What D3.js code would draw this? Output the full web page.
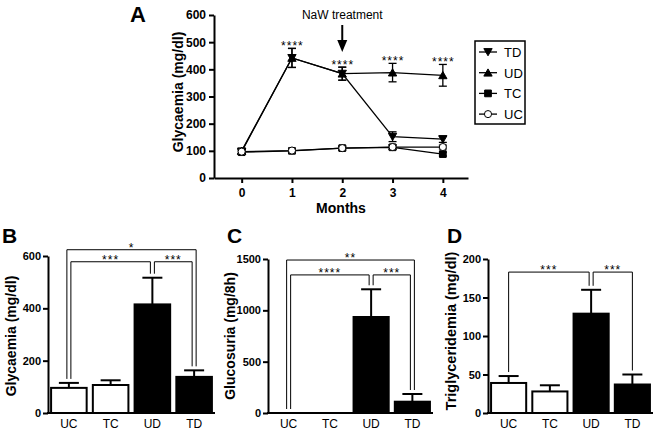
<!DOCTYPE html>
<html>
<head>
<meta charset="utf-8">
<script src="https://cdn.jsdelivr.net/npm/d3@7"></script>
<style>
  body { margin: 0; background: #fff; }
  svg { font-family: "Liberation Sans", Arial, sans-serif; }
  .axis path, .axis line { stroke: #000; stroke-width: 2; }
  .axis text { font-family: "Liberation Sans", Arial, sans-serif; font-weight: bold; font-size: 12px; fill: #000; }
  .bar-axis text { font-size: 11px; }
  .stars { font-size: 12px; letter-spacing: 1px; }
</style>
</head>
<body>
<div id="chart"></div>
<script>
// panel A - glycaemia over time
var months = [0, 1, 2, 3, 4];
var tdMean = [97, 442, 384, 152, 143];
var tdErr = [10, 35, 24, 18, 12];
var udMean = [100, 442, 384, 388, 378];
var udErr = [10, 35, 24, 34, 40];
var tcMean = [95, 100, 110, 113, 88];
var tcErr = [8, 7, 7, 8, 7];
var ucMean = [97, 101, 110, 114, 114];
var ucErr = [8, 7, 7, 8, 7];
var monthStars = ["", "****", "****", "****", "****"];
var yTicksA = [0, 100, 200, 300, 400, 500, 600];

// panels B, C, D
var groups = ["UC", "TC", "UD", "TD"];
var glycaemia = [96, 107, 415, 138];
var glycaemiaErr = [19, 18, 102, 25];
var glucosuria = [0, 0, 935, 110];
var glucosuriaErr = [0, 0, 270, 75];
var triglyc = [39, 28, 129, 37];
var triglycErr = [9, 8, 31, 13];

var glycBrackets = [["UC", "TD", 624, "*"], ["UC", "UD", 578, "***"], ["UD", "TD", 578, "***"]];
var glucBrackets = [["UC", "TD", 1490, "**"], ["UC", "UD", 1345, "****"], ["UD", "TD", 1345, "***"]];
var trigBrackets = [["UC", "UD", 183, "***"], ["UD", "TD", 183, "***"]];

var width = 660, height = 434;
var svg = d3.select("#chart").append("svg")
    .attr("width", width)
    .attr("height", height);

// ---------- panel A ----------
var xA = d3.scaleLinear().domain([-0.55, 4.5]).range([214, 468]);
var yA = d3.scaleLinear().domain([0, 600]).range([178, 15]);

svg.append("g")
    .attr("class", "axis")
    .attr("transform", "translate(214,0)")
    .call(d3.axisLeft(yA).tickValues(yTicksA).tickSize(5).tickSizeOuter(0).tickPadding(3));

svg.append("g")
    .attr("class", "axis")
    .attr("transform", "translate(0,178)")
    .call(d3.axisBottom(xA).tickValues(months).tickSize(5).tickSizeOuter(0).tickPadding(5).tickFormat(d3.format("d")));

svg.append("text").attr("x", 130).attr("y", 22)
    .attr("font-size", 22).attr("font-weight", "bold").text("A");

svg.append("text")
    .attr("transform", "translate(183,92) rotate(-90)")
    .attr("text-anchor", "middle").attr("font-size", 14).attr("font-weight", "bold")
    .text("Glycaemia (mg/dl)");

svg.append("text").attr("x", 341).attr("y", 213)
    .attr("text-anchor", "middle").attr("font-size", 14).attr("font-weight", "bold")
    .text("Months");

var seriesA = [
    { name: "TD", mean: tdMean, err: tdErr, shape: "down" },
    { name: "UD", mean: udMean, err: udErr, shape: "up" },
    { name: "TC", mean: tcMean, err: tcErr, shape: "square" },
    { name: "UC", mean: ucMean, err: ucErr, shape: "circle" }
];

var lineA = d3.line()
    .x(function(d, i) { return xA(months[i]); })
    .y(function(d) { return yA(d); });

function symbolPath(shape) {
    if (shape === "circle") return d3.symbol().type(d3.symbolCircle).size(40)();
    if (shape === "square") return d3.symbol().type(d3.symbolSquare).size(45)();
    return d3.symbol().type(d3.symbolTriangle).size(30)();
}

function drawMarker(g, shape, x, y) {
    g.append("path")
        .attr("d", symbolPath(shape))
        .attr("transform", "translate(" + x + "," + (y + (shape === "down" ? -1 : shape === "up" ? 1 : 0)) + ")" + (shape === "down" ? " rotate(180)" : ""))
        .attr("fill", shape === "circle" ? "#fff" : "#000")
        .attr("stroke", "#000").attr("stroke-width", 1);
}

seriesA.forEach(function(s) {
    var g = svg.append("g");
    g.append("path").datum(s.mean)
        .attr("d", lineA).attr("fill", "none").attr("stroke", "#000").attr("stroke-width", 1.3);
    s.mean.forEach(function(m, i) {
        var x = xA(months[i]);
        g.append("line").attr("x1", x).attr("x2", x)
            .attr("y1", yA(m - s.err[i])).attr("y2", yA(m + s.err[i]))
            .attr("stroke", "#000").attr("stroke-width", 1.3);
        [m - s.err[i], m + s.err[i]].forEach(function(v) {
            g.append("line").attr("x1", x - 4).attr("x2", x + 4)
                .attr("y1", yA(v)).attr("y2", yA(v))
                .attr("stroke", "#000").attr("stroke-width", 1.3);
        });
    });
});
// markers drawn after all lines, UC ends up on top
seriesA.forEach(function(s) {
    var g = svg.append("g");
    s.mean.forEach(function(m, i) { drawMarker(g, s.shape, xA(months[i]), yA(m)); });
});

monthStars.forEach(function(st, i) {
    if (!st) return;
    svg.append("text").attr("class", "stars")
        .attr("x", xA(months[i]) + 0.5).attr("y", yA(udMean[i] + udErr[i]) + 2)
        .attr("text-anchor", "middle").text(st);
});

// treatment arrow
var arrowX = xA(2);
svg.append("text").attr("x", arrowX).attr("y", 19)
    .attr("text-anchor", "middle").attr("font-size", 12).text("NaW treatment");
svg.append("line").attr("x1", arrowX).attr("x2", arrowX).attr("y1", 25).attr("y2", 42)
    .attr("stroke", "#000").attr("stroke-width", 2);
svg.append("path")
    .attr("d", d3.line()([[arrowX - 5, 40], [arrowX + 5, 40], [arrowX, 52]]) + "Z")
    .attr("fill", "#000");

// legend
var legend = svg.append("g").attr("transform", "translate(475,41)");
legend.append("rect").attr("width", 50).attr("height", 83)
    .attr("fill", "#fff").attr("stroke", "#000").attr("stroke-width", 1.5);
seriesA.forEach(function(s, i) {
    var y = 11 + i * 20.7;
    legend.append("line").attr("x1", 4).attr("x2", 22).attr("y1", y).attr("y2", y)
        .attr("stroke", "#000").attr("stroke-width", 1.3);
    drawMarker(legend, s.shape, 13, y);
    legend.append("text").attr("x", 29).attr("y", y + 5)
        .attr("font-size", 13).text(s.name);
});

// ---------- bar panels ----------
function barPanel(opts) {
    var x = d3.scaleBand().domain(groups).range([opts.x0, opts.x1])
        .paddingInner(0.1).paddingOuter(0.05);
    var y = d3.scaleLinear().domain([0, opts.max]).range([413, opts.top]);
    var g = svg.append("g");

    g.append("text").attr("x", opts.letterX).attr("y", 243)
        .attr("font-size", 21).attr("font-weight", "bold").text(opts.letter);

    g.append("text")
        .attr("transform", "translate(" + opts.labelX + "," + opts.labelY + ") rotate(-90)")
        .attr("text-anchor", "middle").attr("font-size", opts.labelSize).attr("font-weight", "bold")
        .text(opts.label);

    // bars
    opts.values.forEach(function(v, i) {
        var cat = groups[i];
        var dark = cat === "UD" || cat === "TD";
        g.append("rect")
            .attr("x", x(cat) + 1).attr("width", x.bandwidth() - 2)
            .attr("y", y(v)).attr("height", y(0) - y(v))
            .attr("fill", dark ? "#000" : "#fff")
            .attr("stroke", "#000").attr("stroke-width", 2);
        var cx = x(cat) + x.bandwidth() / 2;
        if (opts.errs[i] > 0) {
            g.append("line").attr("x1", cx).attr("x2", cx)
                .attr("y1", y(v)).attr("y2", y(v + opts.errs[i]))
                .attr("stroke", "#000").attr("stroke-width", 2);
            g.append("line").attr("x1", cx - 10).attr("x2", cx + 10)
                .attr("y1", y(v + opts.errs[i])).attr("y2", y(v + opts.errs[i]))
                .attr("stroke", "#000").attr("stroke-width", 2);
        }
        g.append("text").attr("x", cx).attr("y", 428)
            .attr("text-anchor", "middle").attr("font-size", 12).text(cat);
    });

    g.append("g")
        .attr("class", "axis bar-axis")
        .attr("transform", "translate(" + opts.x0 + ",0)")
        .call(d3.axisLeft(y).tickValues(opts.ticks).tickSize(5).tickSizeOuter(0).tickPadding(2)
            .tickFormat(d3.format("d")));
    g.append("line").attr("x1", opts.x0 - 1).attr("x2", opts.x1)
        .attr("y1", y(0)).attr("y2", y(0))
        .attr("stroke", "#000").attr("stroke-width", 2);

    // significance brackets; shared bars get their ends spread apart
    var ends = {};
    opts.brackets.forEach(function(b, k) {
        var span = groups.indexOf(b[1]) - groups.indexOf(b[0]);
        (ends[b[0]] = ends[b[0]] || []).push({ k: k, side: 0, key: 100 - span });
        (ends[b[1]] = ends[b[1]] || []).push({ k: k, side: 1, key: -100 + span });
    });
    var endX = {};
    groups.forEach(function(cat) {
        var list = (ends[cat] || []).sort(function(a, b) { return a.key - b.key; });
        list.forEach(function(e, j) {
            endX[e.k + "-" + e.side] = x(cat) + x.bandwidth() / 2 + (j - (list.length - 1) / 2) * 4;
        });
    });
    opts.brackets.forEach(function(b, k) {
        var by = y(b[2]);
        var pts = [b[0], b[1]].map(function(cat, side) {
            var i = groups.indexOf(cat);
            return [endX[k + "-" + side], y(opts.values[i] + opts.errs[i]) - 4];
        });
        g.append("path")
            .attr("d", d3.line()([pts[0], [pts[0][0], by], [pts[1][0], by], pts[1]]))
            .attr("fill", "none").attr("stroke", "#000").attr("stroke-width", 1);
        g.append("text").attr("class", "stars")
            .attr("x", (pts[0][0] + pts[1][0]) / 2).attr("y", by + 2)
            .attr("text-anchor", "middle").text(b[3]);
    });
}

barPanel({ letter: "B", letterX: 2, label: "Glycaemia (mg/dl)", labelX: 16, labelY: 336, labelSize: 14,
    x0: 48, x1: 215, top: 256, max: 600, ticks: [0, 200, 400, 600],
    values: glycaemia, errs: glycaemiaErr, brackets: glycBrackets });
barPanel({ letter: "C", letterX: 227, label: "Glucosuria (mg/8h)", labelX: 235, labelY: 336, labelSize: 14,
    x0: 268, x1: 433, top: 259, max: 1500, ticks: [0, 500, 1000, 1500],
    values: glucosuria, errs: glucosuriaErr, brackets: glucBrackets });
barPanel({ letter: "D", letterX: 447, label: "Triglyceridemia (mg/dl)", labelX: 456, labelY: 331, labelSize: 14.5,
    x0: 488, x1: 653, top: 259, max: 200, ticks: [0, 50, 100, 150, 200],
    values: triglyc, errs: triglycErr, brackets: trigBrackets });
</script>
</body>
</html>
